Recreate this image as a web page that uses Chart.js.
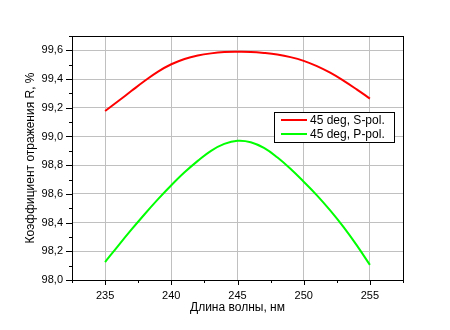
<!DOCTYPE html>
<html>
<head>
<meta charset="utf-8">
<script src="https://cdn.jsdelivr.net/npm/chart.js@4.4.1/dist/chart.umd.min.js"></script>
<style>
  html, body { margin: 0; padding: 0; background: #fff; }
  #wrap { width: 450px; height: 330px; }
</style>
</head>
<body>
<div id="wrap"><canvas id="chart" width="450" height="330"></canvas></div>
<script>
// длина волны, нм
const wavelengths = [235, 236, 237, 238, 239, 240, 241, 242, 243, 244, 245, 246, 247, 248, 249, 250, 251, 252, 253, 254, 255];
// 45 deg, S-pol.
const sPol = [99.177, 99.247, 99.318, 99.388, 99.452, 99.503, 99.54, 99.564, 99.579, 99.588, 99.59, 99.589, 99.582, 99.571, 99.553, 99.527, 99.49, 99.444, 99.389, 99.328, 99.264];
// 45 deg, P-pol.
const pPol = [98.125, 98.24, 98.352, 98.46, 98.563, 98.66, 98.75, 98.83, 98.9, 98.948, 98.97, 98.96, 98.92, 98.855, 98.775, 98.685, 98.59, 98.485, 98.37, 98.243, 98.105];

const xTicks = [235, 240, 245, 250, 255];
const xMinorTicks = [232.5, 237.5, 242.5, 247.5, 252.5, 257.5];
const yTicks = [98.0, 98.2, 98.4, 98.6, 98.8, 99.0, 99.2, 99.4, 99.6];
const yMinorTicks = [98.1, 98.3, 98.5, 98.7, 98.9, 99.1, 99.3, 99.5, 99.7];

const seriesNames = ['45 deg, S-pol.', '45 deg, P-pol.'];
const seriesColors = ['#ff0000', '#00ff00'];

const FONT = 'Liberation Sans, Arial, sans-serif';

// рамка, внешние засечки и легенда
const framePlugin = {
  id: 'frame',
  afterDraw(chart) {
    const { ctx, chartArea: a, scales: { x, y } } = chart;
    ctx.save();
    ctx.strokeStyle = '#000';
    ctx.lineWidth = 1;
    ctx.strokeRect(Math.round(a.left) + 0.5, Math.round(a.top) + 0.5,
      Math.round(a.right - a.left), Math.round(a.bottom - a.top));

    ctx.beginPath();
    xTicks.forEach(v => {
      const px = Math.round(x.getPixelForValue(v)) + 0.5;
      ctx.moveTo(px, a.bottom); ctx.lineTo(px, a.bottom + 5);
    });
    xMinorTicks.forEach(v => {
      const px = Math.round(x.getPixelForValue(v)) + 0.5;
      ctx.moveTo(px, a.bottom); ctx.lineTo(px, a.bottom + 3);
    });
    yTicks.forEach(v => {
      const py = Math.round(y.getPixelForValue(v)) + 0.5;
      ctx.moveTo(a.left, py); ctx.lineTo(a.left - 6, py);
    });
    yMinorTicks.forEach(v => {
      const py = Math.round(y.getPixelForValue(v)) + 0.5;
      ctx.moveTo(a.left, py); ctx.lineTo(a.left - 3, py);
    });
    ctx.stroke();

    // легенда
    const bx = 274.5, by = 112.5, bw = 120, bh = 30;
    ctx.fillStyle = '#fff';
    ctx.fillRect(bx, by, bw, bh);
    ctx.strokeRect(bx, by, bw, bh);
    ctx.font = '12px ' + FONT;
    ctx.textBaseline = 'middle';
    seriesNames.forEach((name, i) => {
      const ly = 120 + i * 14;
      ctx.strokeStyle = seriesColors[i];
      ctx.lineWidth = 2;
      ctx.beginPath();
      ctx.moveTo(281, ly); ctx.lineTo(307, ly);
      ctx.stroke();
      ctx.fillStyle = '#000';
      ctx.fillText(name, 310, ly + 1);
    });
    ctx.restore();
  }
};

new Chart(document.getElementById('chart'), {
  type: 'line',
  data: {
    labels: wavelengths,
    datasets: [
      { label: seriesNames[0], data: wavelengths.map((w, i) => ({ x: w, y: sPol[i] })), borderColor: seriesColors[0], borderWidth: 2, pointRadius: 0, tension: 0.4, fill: false },
      { label: seriesNames[1], data: wavelengths.map((w, i) => ({ x: w, y: pPol[i] })), borderColor: seriesColors[1], borderWidth: 2, pointRadius: 0, tension: 0.4, fill: false }
    ]
  },
  options: {
    responsive: false,
    animation: false,
    layout: { padding: { top: 36, right: 47, left: 0, bottom: 0 } },
    plugins: { legend: { display: false }, tooltip: { enabled: false } },
    scales: {
      x: {
        type: 'linear',
        min: 232.5,
        max: 257.5,
        afterBuildTicks: s => { s.ticks = xTicks.map(v => ({ value: v })); },
        afterFit: s => { s.height = 50; },
        grid: { color: '#c0c0c0', drawTicks: false },
        border: { color: '#000' },
        ticks: { color: '#000', padding: 9, maxRotation: 0, font: { family: FONT, size: 11 } },
        title: { display: true, text: 'Длина волны, нм', color: '#000', font: { family: FONT, size: 12 }, padding: { top: 0, bottom: 15 } }
      },
      y: {
        min: 98.0,
        max: 99.7,
        afterBuildTicks: s => { s.ticks = yTicks.map(v => ({ value: v })); },
        afterFit: s => { s.width = 72; },
        grid: { color: '#c0c0c0', drawTicks: false },
        border: { color: '#000' },
        ticks: { color: '#000', padding: 9, font: { family: FONT, size: 11 }, callback: v => v.toFixed(1).replace('.', ',') },
        title: { display: true, text: 'Коэффициент отражения R, %', color: '#000', font: { family: FONT, size: 12 }, padding: { top: 23, bottom: 0 } }
      }
    }
  },
  plugins: [framePlugin]
});
</script>
</body>
</html>
